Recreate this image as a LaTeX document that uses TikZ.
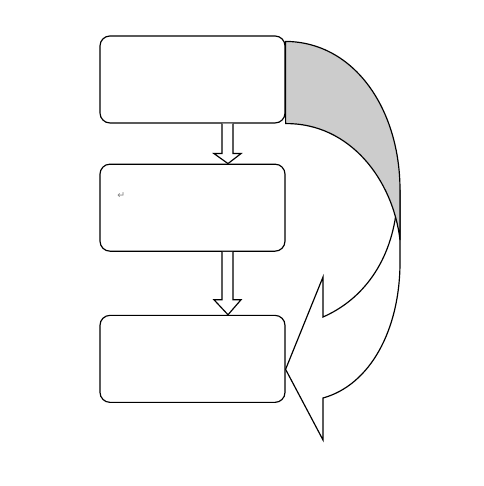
\documentclass[tikz,border=0pt]{standalone}
\usepackage{fontspec}
\newfontfamily\symfont{DejaVu Sans}
\usepackage{tikz}
\usetikzlibrary{positioning,calc}

% hollow block arrow between two boxes: from, to, head length
\newcommand{\blockarrow}[3]{%
    \draw[blockarr] ($(#1.south)+(29.5,0)$) -- ($(#2.north)+(29.5,#3)$) -- ($(#2.north)+(21.5,#3)$)
        -- ($(#2.north)+(35.5,0)$) -- ($(#2.north)+(48.5,#3)$) -- ($(#2.north)+(40.5,#3)$)
        -- ($(#1.south)+(40.5,0)$);
}

\begin{document}
\begin{tikzpicture}[
    x=0.03cm, y=0.03cm,
    box/.style={draw, rectangle, rounded corners=0.3cm, line width=1pt, fill=white,
        minimum width=5.55cm, minimum height=2.61cm},
    blockarr/.style={draw, line width=1pt, fill=white, line join=miter},
    back/.style={draw, line width=1pt, fill=gray!40},
    front/.style={draw, line width=1pt, fill=white, line join=miter},
    node distance=1.2cm
]
    \useasboundingbox (0,0) rectangle (483,486);

    % Boxes
    \node[box] (b1) at (192.5,406.5) {};
    \node[box, below=of b1] (b2) {};
    \node[box, below=1.89cm of b2] (b3) {};
    \node[text=gray, font=\symfont\fontsize{8}{8}\selectfont] (mark) at ($(b2.north west)+(22,-32)$) {↵};

    % Straight arrows
    \blockarrow{b1}{b2}{10}
    \blockarrow{b2}{b3}{15}

    % Curved arrow back to the last box
    \coordinate (top) at ($(b1.north east)+(0,-6)$);
    \coordinate (tip) at ($(b3.east)+(0,-10.5)$);
    \draw[front] (400,296) -- (400,224) .. controls (400,156) and (370,101) .. (323,88)
        -- (323,46) -- (tip) -- (323,209) -- (323,169)
        .. controls (362,186) and (392,224) .. (397,281) -- cycle;
    \draw[back] (top) .. controls (355,444) and (400,376) .. (400,296) -- (400,246)
        .. controls (393,306) and (350,363) .. (b1.south east) -- cycle;
\end{tikzpicture}
\end{document}
